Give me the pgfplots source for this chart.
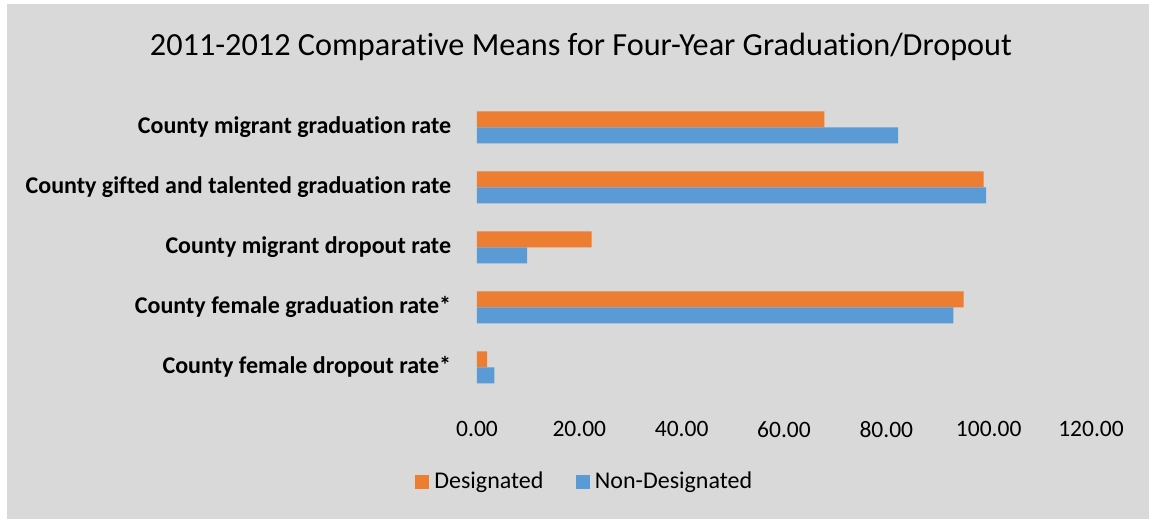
\documentclass[border=0pt]{standalone}
\usepackage{pgfplots}
\pgfplotsset{compat=1.18}
\usepackage{fontspec}
\setmainfont{Carlito}[Ligatures={TeX,NoCommon}]
\definecolor{bg}{HTML}{D9D9D9}
\definecolor{desig}{HTML}{ED7D31}
\definecolor{nondesig}{HTML}{5B9BD5}
\begin{document}
\begin{tikzpicture}[x=0.4pt,y=0.4pt]
% page: 1149 x 519 px, 1 px = 0.4pt, origin bottom left
\useasboundingbox (0,0) rectangle (1149,519);
\fill[white] (0,0) rectangle (1149,519);
\fill[bg] (7,0) rectangle (1149,515);
\node[font=\fontsize{12.9}{15}\selectfont] at (581,472) {2011-2012 Comparative Means for Four-Year Graduation/Dropout};
\coordinate (origin) at (477,121.7);
\begin{axis}[
  at={(origin)}, anchor=south west,
  scale only axis,
  width=245.6pt, height=120pt,
  xbar, bar width=6.4pt,
  xmin=0, xmax=120, ymin=-0.5, ymax=4.5,
  enlargelimits=false,
  axis line style={draw=none},
  major tick length=0pt,
  xtick={0,20,...,120},
  ytick={0,1,2,3,4},
  yticklabels={County female dropout rate*, County female graduation rate*, County migrant dropout rate, County gifted and talented graduation rate, County migrant graduation rate},
  yticklabel style={font=\fontsize{9.6}{11}\selectfont\bfseries, anchor=east, inner sep=0pt, xshift=-10.2pt},
  xticklabel style={font=\fontsize{9.4}{11}\selectfont, anchor=center, yshift=-12.8pt},
  /pgf/number format/assume math mode=true,
  xticklabel={\pgfmathprintnumber[fixed, fixed zerofill, precision=2]{\tick}},
  legend style={at={(0.178,-0.282)}, anchor=center, draw=none, fill=none,
    legend columns=2, font=\fontsize{9.6}{11}\selectfont,
    /tikz/every even column/.append style={column sep=11pt}},
  legend image code/.code={\fill[#1] (0pt,-2.8pt) rectangle (5.6pt,2.8pt);},
]
\addplot[fill=desig, draw=none, bar shift=3.2pt] coordinates {
  (2.0,0) (95.1,1) (22.4,2) (99.0,3) (67.9,4)
};
\addlegendentry{Designated}
\addplot[fill=nondesig, draw=none, bar shift=-3.2pt] coordinates {
  (3.4,0) (93.1,1) (9.8,2) (99.5,3) (82.3,4)
};
\addlegendentry{Non-Designated}
\end{axis}
\end{tikzpicture}
\end{document}
